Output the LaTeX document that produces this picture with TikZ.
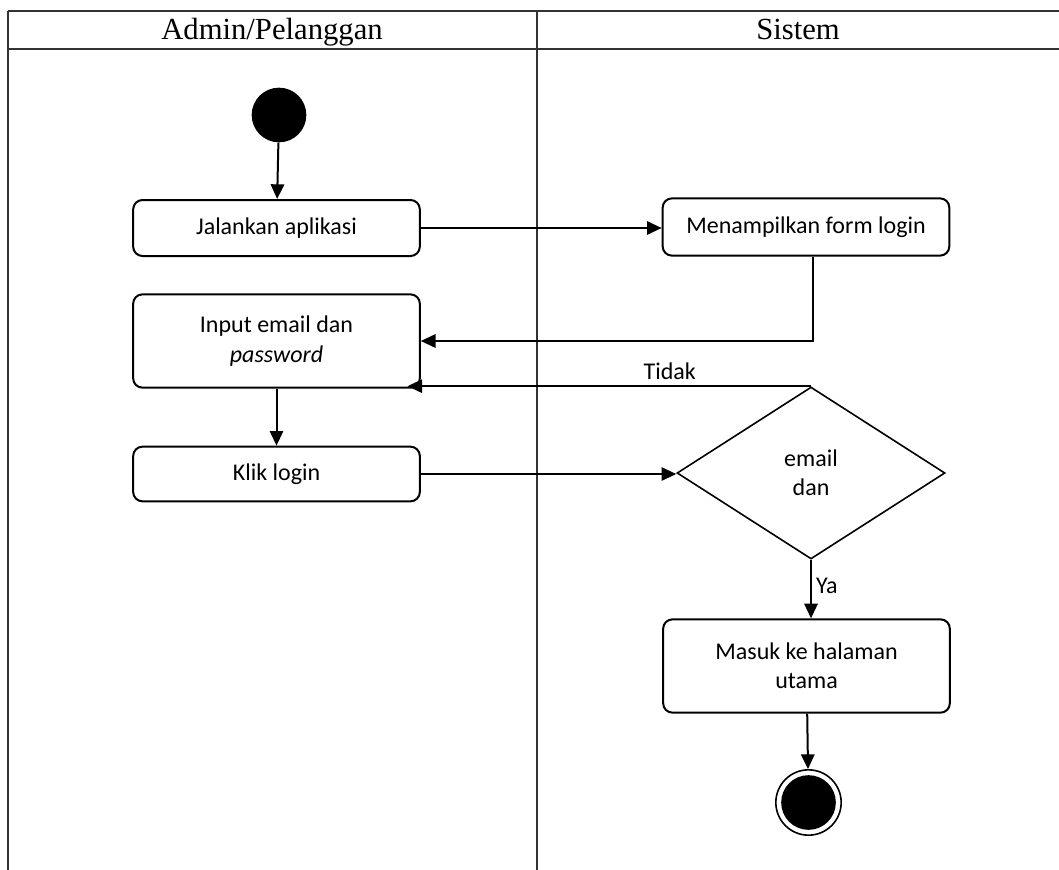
\documentclass[tikz,border=0pt]{standalone}
\usepackage{fontspec}
\setmainfont{Liberation Serif}
\newfontfamily\boxfont{Carlito}
\usetikzlibrary{shapes.geometric,arrows.meta}
\begin{document}
\begin{tikzpicture}[x=0.75pt,y=-0.75pt]

\tikzset{
  act_s/.style = {align=center, inner sep=0pt, text centered, draw=black,
    line width=1.5pt, rounded corners=7pt, minimum width=215pt,
    font=\boxfont\fontsize{18}{22}\selectfont},
  dec_s/.style = {align=center, inner sep=0pt, diamond, draw=black,
    line width=1.2pt, minimum width=201pt, minimum height=129pt,
    font=\boxfont\fontsize{18}{22}\selectfont},
  lbl_s/.style = {inner sep=1pt, font=\boxfont\fontsize{18}{22}\selectfont},
  head_s/.style = {anchor=base, font=\fontsize{23}{26}\selectfont},
  lane_s/.style = {draw=black!80, line width=1.5pt},
  arr_s/.style = {draw=black, line width=1.5pt,
    -{Triangle[length=11pt,width=10pt]}}
}
\useasboundingbox (0,0) rectangle (1059,870);

% swimlanes
\draw [lane_s] (8,11) -- (1059,11);
\draw [lane_s] (8,49) -- (1059,49);
\draw [lane_s] (8,11) -- (8,870);
\draw [lane_s] (537,11) -- (537,870);
\node [head_s] (h_user) at (272,40) {Admin/Pelanggan};
\node [head_s] (h_sys) at (798,40) {Sistem};

% activities
\node [circle, fill=black, inner sep=0pt, minimum size=41pt] (start) at (279,115) {};
\node [act_s, minimum height=42pt] (jalan) at (276.5,228) {Jalankan aplikasi};
\node [act_s, minimum height=43pt] (form) at (806,227) {Menampilkan form login};
\node [act_s, minimum height=70pt] (input) at (276.5,341) {Input email dan\\\textit{password}};
\node [act_s, minimum height=41pt] (klik) at (276.5,474) {Klik login};
\node [dec_s] (cek) at (811,473) {email\\dan};
\node [act_s, minimum height=70pt] (masuk) at (806.5,666) {Masuk ke halaman\\utama};
\node [circle, draw=black, line width=1.2pt, inner sep=0pt, minimum size=49pt] (end) at (808.5,802.5) {};
\node [circle, fill=black, inner sep=0pt, minimum size=41pt] (end_in) at (end) {};

% flows
\draw [arr_s] (start) -- (jalan);
\draw [arr_s] (jalan.east) -- (jalan.east -| form.west);
\draw [arr_s] ([xshift=5pt]form.south) |- (input.east);
\coordinate (tidak_end) at ([xshift=-10pt]input.south east);
\draw [arr_s] (cek.north) -- (cek.north -| tidak_end)
  node [lbl_s, pos=0.35, above=3pt] (l_tidak) {Tidak};
\draw [arr_s] (input) -- (klik);
\draw [arr_s] (klik.east) -- (klik.east -| cek.west);
\draw [arr_s] (cek.south) -- (cek.south |- masuk.north)
  node [lbl_s, pos=0.45, right=2pt] (l_ya) {Ya};
\draw [arr_s] (masuk) -- (end);

\end{tikzpicture}
\end{document}
